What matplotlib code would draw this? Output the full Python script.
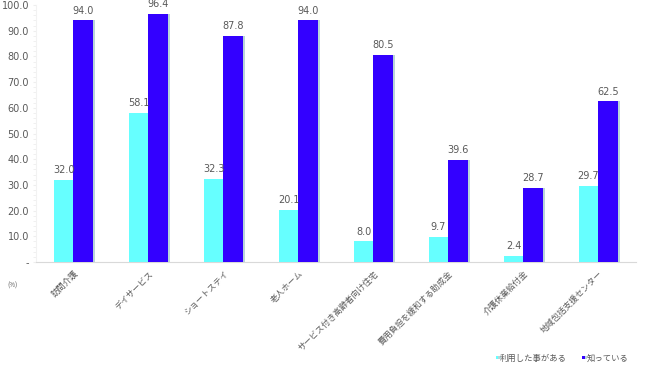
import numpy as np
import matplotlib.pyplot as plt
import matplotlib.patheffects as pe

plt.rcParams['font.family'] = ['Noto Sans CJK JP', 'DejaVu Sans']

# data
categories = ['訪問介護', 'デイサービス', 'ショートステイ', '老人ホーム',
              'サービス付き高齢者向け住宅', '費用負担を緩和する助成金',
              '介護休業給付金', '地域包括支援センター']
used = [32.0, 58.1, 32.3, 20.1, 8.0, 9.7, 2.4, 29.7]
known = [94.0, 96.4, 87.8, 94.0, 80.5, 39.6, 28.7, 62.5]
series_names = ['利用した事がある', '知っている']
colors = ['#66FFFF', '#3300FF']
yticks = [0, 10, 20, 30, 40, 50, 60, 70, 80, 90, 100]

fig = plt.figure(figsize=(6.5, 3.75), dpi=100)
ax = fig.add_axes([0.0554, 0.3013, 0.9226, 0.6854])

x = np.arange(len(categories))
w = 0.26
shadow = [pe.SimplePatchShadow(offset=(1.5, 0), shadow_rgbFace='#9cc4c8', alpha=0.7), pe.Normal()]

b1 = ax.bar(x - w / 2, used, w, color=colors[0], label=series_names[0], path_effects=shadow, zorder=3)
b2 = ax.bar(x + w / 2, known, w, color=colors[1], label=series_names[1], path_effects=shadow, zorder=3)

for bars in (b1, b2):
    for r in bars:
        ax.annotate(f'{r.get_height():.1f}', (r.get_x() + r.get_width() / 2, r.get_height()),
                    xytext=(0, 3.5), textcoords='offset points', ha='center', va='bottom',
                    fontsize=7, color='#595959', family='DejaVu Sans')

ax.set_xlim(-0.5, len(categories) - 0.5)
ax.set_ylim(0, 100)
ax.set_yticks(yticks)
ax.set_yticklabels(['-' if v == 0 else f'{v:.1f}' for v in yticks], fontsize=7, color='#595959',
                   family='DejaVu Sans')
ax.set_yticks(np.arange(0, 101, 2), minor=True)
ax.tick_params(axis='y', which='both', length=2, color='#eeeeee', pad=3)
ax.set_xticks(x)
ax.set_xticklabels(categories, rotation=45, ha='right', rotation_mode='anchor', fontsize=6, color='#595959')
ax.tick_params(axis='x', length=0, pad=5)

for s in ['top', 'right']:
    ax.spines[s].set_visible(False)
ax.spines['left'].set_color('#f2f2f2')
ax.spines['bottom'].set_color('#d9d9d9')

fig.text(0.012, 0.232, '(%)', fontsize=4.5, color='#595959')

ax.legend(loc='center right', bbox_to_anchor=(1.0, -0.374), ncol=2, frameon=False, fontsize=6,
          handlelength=0.3, handleheight=0.3, handletextpad=0.2, columnspacing=1.8,
          labelcolor='#595959')

fig.savefig('out.png', dpi=100)
